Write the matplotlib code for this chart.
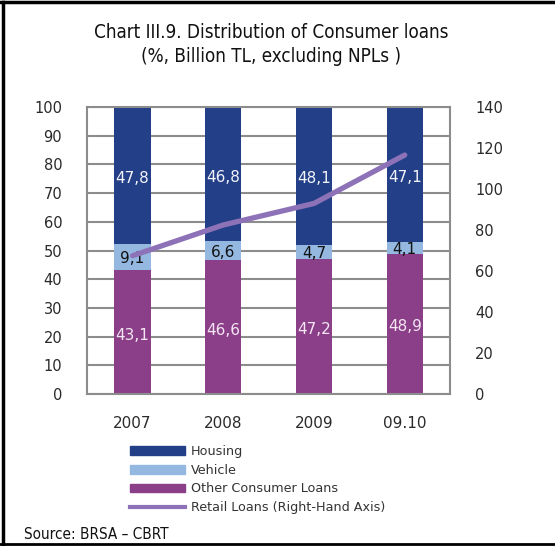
import numpy as np
import matplotlib.pyplot as plt
from matplotlib.patches import Patch
from matplotlib.lines import Line2D

periods = ["2007", "2008", "2009", "09.10"]
other = [43.1, 46.6, 47.2, 48.9]
vehicle = [9.1, 6.6, 4.7, 4.1]
housing = [47.8, 46.8, 48.1, 47.1]
retail = [67.5, 82.5, 93.0, 116.6]   # billion TL, right axis

c_house = "#233f87"
c_veh = "#95b8e0"
c_other = "#8b3f88"
c_line = "#8e72b8"
grid_c = "#8c8c8c"

fig = plt.figure(figsize=(5.55, 5.46), dpi=100)
ax = fig.add_axes([0.157, 0.278, 0.654, 0.526])

x = np.arange(len(periods))
w = 0.4
other_a = np.array(other)
veh_a = np.array(vehicle)
house_a = np.array(housing)

ax.bar(x, other_a, w, color=c_other, zorder=2)
ax.bar(x, veh_a, w, bottom=other_a, color=c_veh, zorder=2)
ax.bar(x, house_a, w, bottom=other_a + veh_a, color=c_house, zorder=2)

for i in range(len(x)):
    ax.text(x[i], other_a[i] / 2 - 1, f"{other[i]:.1f}".replace(".", ","),
            ha="center", va="center", color="#f3e6f2", fontsize=11, zorder=3)
    ax.text(x[i], other_a[i] + veh_a[i] / 2 - 0.5, f"{vehicle[i]:.1f}".replace(".", ","),
            ha="center", va="center", color="#111111", fontsize=11, zorder=3)
    ax.text(x[i], other_a[i] + veh_a[i] + house_a[i] / 2 - 1,
            f"{housing[i]:.1f}".replace(".", ","),
            ha="center", va="center", color="#f2f4fa", fontsize=11, zorder=3)

ax.set_xlim(-0.5, 3.5)
ax.set_ylim(0, 100)
ax.set_yticks(np.arange(0, 101, 10))
ax.set_xticks(x)
ax.set_xticklabels(periods)
ax.yaxis.grid(True, color=grid_c, lw=1.5, zorder=0)
ax.set_axisbelow(True)
for s in ax.spines.values():
    s.set_color(grid_c)
    s.set_linewidth(1.5)
ax.tick_params(axis="y", length=0, pad=18, labelsize=10.5, labelcolor="#2a2a2a")
ax.tick_params(axis="x", length=0, pad=16, labelsize=11, labelcolor="#2a2a2a")

ax2 = ax.twinx()
ax2.plot(x, retail, color=c_line, lw=3.8, solid_capstyle="round", zorder=4)
ax2.set_ylim(0, 140)
ax2.set_yticks(np.arange(0, 141, 20))
ax2.tick_params(axis="y", length=0, pad=18, labelsize=10.5, labelcolor="#2a2a2a")
for s in ax2.spines.values():
    s.set_visible(False)

fig.text(0.488, 0.918, "Chart III.9. Distribution of Consumer loans\n(%, Billion TL, excluding NPLs )",
         ha="center", va="center", fontsize=13.5, linespacing=1.35,
         family="DejaVu Sans", fontstretch="condensed", color="#111111")

handles = [
    Patch(color=c_house, label="Housing"),
    Patch(color=c_veh, label="Vehicle"),
    Patch(color=c_other, label="Other Consumer Loans"),
    Line2D([0], [0], color=c_line, lw=3, label="Retail Loans (Right-Hand Axis)"),
]
fig.legend(handles=handles, loc="upper left", bbox_to_anchor=(0.234, 0.185),
           frameon=False, fontsize=9.2, handlelength=4.3, handleheight=0.65,
           handletextpad=0.5, labelspacing=0.45, borderpad=0, borderaxespad=0,
           labelcolor="#333333")

fig.text(0.043, 0.008, "Source: BRSA – CBRT", ha="left", va="bottom", fontsize=11,
         family="DejaVu Sans", fontstretch="condensed", color="#111111")

# frame around the figure (left, top, bottom)
fig.add_artist(Line2D([0.005, 0.005], [0.003, 0.997], transform=fig.transFigure,
                      color="black", lw=2.5))
fig.add_artist(Line2D([0.0, 1.0], [0.997, 0.997], transform=fig.transFigure,
                      color="black", lw=2.5))
fig.add_artist(Line2D([0.0, 1.0], [0.003, 0.003], transform=fig.transFigure,
                      color="black", lw=2))

fig.savefig("out.png", dpi=100)
